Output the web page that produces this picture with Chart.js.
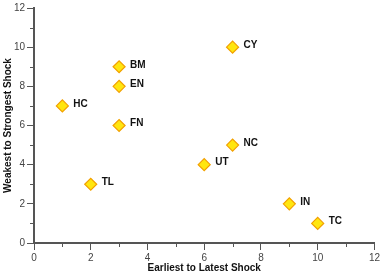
<!DOCTYPE html>
<html>
<head>
<meta charset="utf-8">
<script src="https://cdn.jsdelivr.net/npm/chart.js@4/dist/chart.umd.min.js"></script>
<style>
  html, body { margin: 0; padding: 0; background: #fff; }
  #wrap { width: 382px; height: 273px; }
</style>
</head>
<body>
<div id="wrap"><canvas id="myScatter"></canvas></div>
<script>
const labels = ['BM', 'EN', 'HC', 'FN', 'CY', 'NC', 'UT', 'TL', 'IN', 'TC'];
const xValues = [3, 3, 1, 3, 7, 7, 6, 2, 9, 10];
const yValues = [9, 8, 7, 6, 10, 5, 4, 3, 2, 1];
const xTicks = [0, 2, 4, 6, 8, 10, 12];
const yTicks = [0, 2, 4, 6, 8, 10, 12];

const axisColor = '#555';

// labels next to each marker + short minor ticks at odd values
const extras = {
    id: 'extras',
    afterDatasetsDraw(chart) {
        const c = chart.ctx;
        const meta = chart.getDatasetMeta(0);
        c.save();
        c.font = 'bold 10px "Liberation Sans", Arial, sans-serif';
        c.fillStyle = '#111';
        c.textBaseline = 'middle';
        meta.data.forEach((pt, i) => {
            c.fillText(labels[i], pt.x + 11, pt.y - 2);
        });
        const xs = chart.scales.x, ys = chart.scales.y;
        c.strokeStyle = axisColor;
        c.lineWidth = 1;
        for (let v = 1; v < 12; v += 2) {
            const px = Math.round(xs.getPixelForValue(v)) + 0.5;
            c.beginPath();
            c.moveTo(px, xs.top);
            c.lineTo(px, xs.top + 4);
            c.stroke();
            const py = Math.round(ys.getPixelForValue(v)) + 0.5;
            c.beginPath();
            c.moveTo(ys.right, py);
            c.lineTo(ys.right - 4, py);
            c.stroke();
        }
        c.restore();
    }
};

const ctx = document.getElementById('myScatter').getContext('2d');
const scatter = new Chart(ctx, {
    type: 'scatter',
    data: {
        datasets: [{
            data: xValues.map((x, i) => ({ x: x, y: yValues[i] })),
            pointStyle: 'rectRot',
            pointRadius: 6,
            pointBorderWidth: 1.2,
            backgroundColor: '#ffe60f',
            borderColor: '#f2a000'
        }]
    },
    options: {
        responsive: true,
        maintainAspectRatio: false,
        animation: false,
        layout: { padding: { top: 4, right: 7, left: 0, bottom: 0 } },
        scales: {
            x: {
                type: 'linear',
                min: 0,
                max: 12,
                afterBuildTicks: s => { s.ticks = xTicks.map(v => ({ value: v })); },
                afterFit: s => { s.height = 30; },
                ticks: {
                    color: '#444',
                    padding: 2,
                    font: { size: 10, family: '"Liberation Sans", Arial, sans-serif' }
                },
                grid: {
                    drawOnChartArea: false,
                    tickLength: 7,
                    tickColor: axisColor,
                    tickWidth: 1
                },
                border: { display: true, color: axisColor, width: 2 },
                title: {
                    display: true,
                    text: 'Earliest to Latest Shock',
                    color: '#111',
                    padding: { top: 0, bottom: -1 },
                    font: { size: 10, weight: 'bold', family: '"Liberation Sans", Arial, sans-serif' }
                }
            },
            y: {
                type: 'linear',
                min: 0,
                max: 12,
                afterBuildTicks: s => { s.ticks = yTicks.map(v => ({ value: v })); },
                afterFit: s => { s.width = 34; },
                ticks: {
                    color: '#444',
                    padding: 2,
                    font: { size: 10, family: '"Liberation Sans", Arial, sans-serif' }
                },
                grid: {
                    drawOnChartArea: false,
                    tickLength: 7,
                    tickColor: axisColor,
                    tickWidth: 1
                },
                border: { display: true, color: axisColor, width: 2 },
                title: {
                    display: true,
                    text: 'Weakest to Strongest Shock',
                    color: '#111',
                    padding: { top: 2, bottom: 0 },
                    font: { size: 10, weight: 'bold', family: '"Liberation Sans", Arial, sans-serif' }
                }
            }
        },
        plugins: {
            legend: { display: false },
            tooltip: { enabled: false }
        }
    },
    plugins: [extras]
});
</script>
</body>
</html>
